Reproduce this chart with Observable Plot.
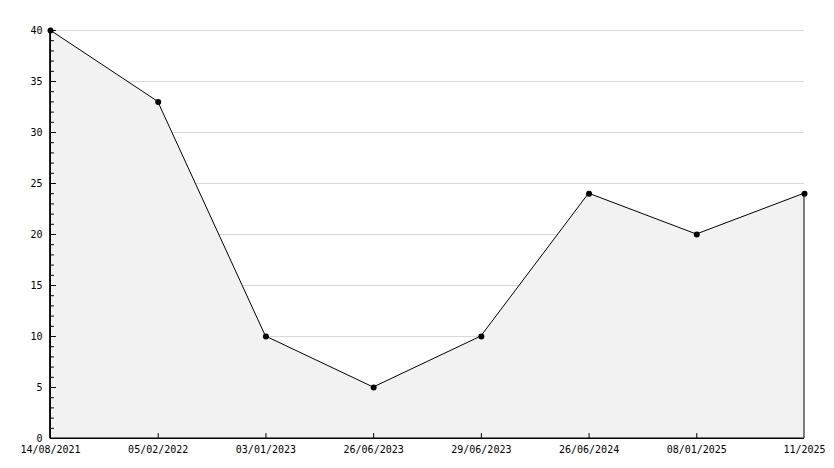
<!DOCTYPE html>
<html>
<head>
<meta charset="utf-8">
<script src="https://cdn.jsdelivr.net/npm/d3@7"></script>
<script src="https://cdn.jsdelivr.net/npm/@observablehq/plot@0.6"></script>
<style>
  html, body { margin: 0; padding: 0; background: #fff; }
  svg { display: block; }
</style>
</head>
<body>
<div id="chart"></div>
<script>
const dates = ["14/08/2021", "05/02/2022", "03/01/2023", "26/06/2023", "29/06/2023", "26/06/2024", "08/01/2025", "11/2025"];
const values = [40, 33, 10, 5, 10, 24, 20, 24];
const yMajorTicks = [0, 5, 10, 15, 20, 25, 30, 35, 40];
const yMinorTicks = d3.range(0, 41).filter(d => d % 5 !== 0);

const data = dates.map((d, i) => ({date: d, value: values[i]}));
const first = dates[0];
const last = dates[dates.length - 1];

const tickShape = {
  draw(context, l) { context.moveTo(0, 0); context.lineTo(0, -l); }
};

const chart = Plot.plot({
  width: 834,
  height: 468,
  marginLeft: 50,
  marginRight: 30,
  marginTop: 30,
  marginBottom: 30,
  style: {fontFamily: "DejaVu Sans Mono", fontSize: "10px", color: "#000", background: "#fff"},
  x: {type: "point", domain: dates, padding: 0, round: false, axis: null},
  y: {domain: [0, 40], axis: null},
  marks: [
    Plot.ruleY(yMajorTicks.filter(d => d > 0), {y: d => d, x1: () => first, x2: () => last, stroke: "#d9d9d9", strokeWidth: 1}),
    Plot.areaY(data, {x: "date", y: "value", fill: "#f2f2f2", stroke: "#000", strokeWidth: 1}),
    Plot.dot(data, {x: "date", y: "value", r: 3, fill: "#000", stroke: "none"}),
    // axis lines
    Plot.ruleX([first], {x: d => d, y1: 0, y2: 40, stroke: "#000"}),
    Plot.ruleY([0], {y: d => d, x1: () => first, x2: () => last, stroke: "#000"}),
    // y ticks (inward)
    Plot.vector(yMinorTicks, {x: () => first, y: d => d, length: 3, rotate: 90, anchor: "start", shape: tickShape, stroke: "#000", strokeWidth: 1}),
    Plot.vector(yMajorTicks, {x: () => first, y: d => d, length: 5, rotate: 90, anchor: "start", shape: tickShape, stroke: "#000", strokeWidth: 1}),
    // x ticks (upward) at interior categories
    Plot.vector(dates.slice(1, -1), {x: d => d, y: () => 0, length: 5, rotate: 0, anchor: "start", shape: tickShape, stroke: "#000", strokeWidth: 1}),
    // y labels
    Plot.text(yMajorTicks, {x: () => first, y: d => d, text: d => String(d), textAnchor: "end", dx: -8, fill: "#000"}),
    // x labels
    Plot.text(dates, {x: d => d, y: () => 0, text: d => d, textAnchor: "middle", dy: 11, fill: "#000"})
  ]
});

document.getElementById("chart").appendChild(chart);
</script>
</body>
</html>
